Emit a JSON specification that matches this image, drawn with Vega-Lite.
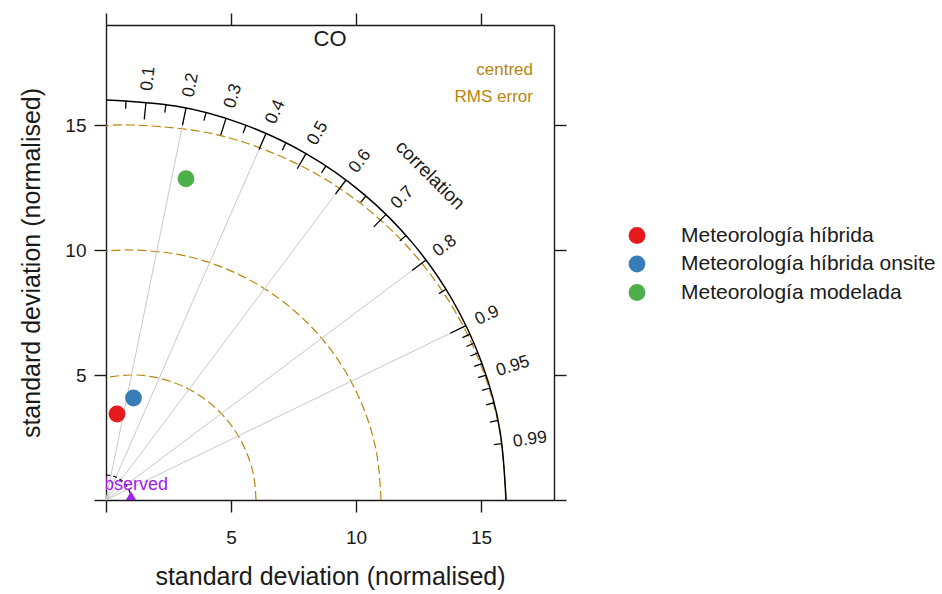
{
  "$schema": "https://vega.github.io/schema/vega-lite/v6.json",
  "width": 448,
  "height": 475,
  "autosize": {"type": "none"},
  "padding": {"left": 106, "top": 25, "right": 388, "bottom": 94},
  "background": "white",
  "config": {
    "view": {"stroke": null},
    "font": "Liberation Sans",
    "axis": {"grid": false, "domainColor": "#1a1a1a", "tickColor": "#1a1a1a", "domainWidth": 1.4, "tickWidth": 1.4, "labelColor": "#1a1a1a", "labelFont": "Liberation Sans", "titleFont": "Liberation Sans", "titleFontWeight": "normal", "titleColor": "#1a1a1a"}
  },
  "datasets": {
    "pts": [
      {"model": "Meteorología híbrida", "sdx": 0.44, "sdy": 3.44},
      {"model": "Meteorología híbrida onsite", "sdx": 1.1, "sdy": 4.08},
      {"model": "Meteorología modelada", "sdx": 3.2, "sdy": 12.85}
    ],
    "arcs": [
      {"arc": "r5", "i": 0, "x": 6, "y": 0}, {"arc": "r5", "i": 1, "x": 5.924, "y": 0.868}, {"arc": "r5", "i": 2, "x": 5.698, "y": 1.71}, {"arc": "r5", "i": 3, "x": 5.33, "y": 2.5}, {"arc": "r5", "i": 4, "x": 4.83, "y": 3.214}, {"arc": "r5", "i": 5, "x": 4.214, "y": 3.83}, {"arc": "r5", "i": 6, "x": 3.5, "y": 4.33}, {"arc": "r5", "i": 7, "x": 2.71, "y": 4.698}, {"arc": "r5", "i": 8, "x": 1.868, "y": 4.924}, {"arc": "r5", "i": 9, "x": 1, "y": 5}, {"arc": "r5", "i": 10, "x": 0.132, "y": 4.924}, {"arc": "r5", "i": 11, "x": 0, "y": 4.899},
      {"arc": "r10", "i": 0, "x": 11, "y": 0}, {"arc": "r10", "i": 1, "x": 10.848, "y": 1.736}, {"arc": "r10", "i": 2, "x": 10.397, "y": 3.42}, {"arc": "r10", "i": 3, "x": 9.66, "y": 5}, {"arc": "r10", "i": 4, "x": 8.66, "y": 6.428}, {"arc": "r10", "i": 5, "x": 7.428, "y": 7.66}, {"arc": "r10", "i": 6, "x": 6, "y": 8.66}, {"arc": "r10", "i": 7, "x": 4.42, "y": 9.397}, {"arc": "r10", "i": 8, "x": 2.736, "y": 9.848}, {"arc": "r10", "i": 9, "x": 1, "y": 10}, {"arc": "r10", "i": 10, "x": 0, "y": 9.95},
      {"arc": "r15", "i": 0, "x": 16, "y": 0}, {"arc": "r15", "i": 1, "x": 15.772, "y": 2.605}, {"arc": "r15", "i": 2, "x": 15.095, "y": 5.13}, {"arc": "r15", "i": 3, "x": 13.99, "y": 7.5}, {"arc": "r15", "i": 4, "x": 12.491, "y": 9.642}, {"arc": "r15", "i": 5, "x": 10.642, "y": 11.491}, {"arc": "r15", "i": 6, "x": 8.5, "y": 12.99}, {"arc": "r15", "i": 7, "x": 6.13, "y": 14.095}, {"arc": "r15", "i": 8, "x": 3.605, "y": 14.772}, {"arc": "r15", "i": 9, "x": 1, "y": 15}, {"arc": "r15", "i": 10, "x": 0, "y": 14.967},
      {"arc": "outer", "i": 0, "x": 16, "y": 0}, {"arc": "outer", "i": 1, "x": 15.757, "y": 2.778}, {"arc": "outer", "i": 2, "x": 15.035, "y": 5.472}, {"arc": "outer", "i": 3, "x": 13.856, "y": 8}, {"arc": "outer", "i": 4, "x": 12.257, "y": 10.285}, {"arc": "outer", "i": 5, "x": 10.285, "y": 12.257}, {"arc": "outer", "i": 6, "x": 8, "y": 13.856}, {"arc": "outer", "i": 7, "x": 5.472, "y": 15.035}, {"arc": "outer", "i": 8, "x": 2.778, "y": 15.757}, {"arc": "outer", "i": 9, "x": 0, "y": 16},
      {"arc": "ref", "i": 0, "x": 1, "y": 0}, {"arc": "ref", "i": 1, "x": 0.985, "y": 0.174}, {"arc": "ref", "i": 2, "x": 0.94, "y": 0.342}, {"arc": "ref", "i": 3, "x": 0.866, "y": 0.5}, {"arc": "ref", "i": 4, "x": 0.766, "y": 0.643}, {"arc": "ref", "i": 5, "x": 0.643, "y": 0.766}, {"arc": "ref", "i": 6, "x": 0.5, "y": 0.866}, {"arc": "ref", "i": 7, "x": 0.342, "y": 0.94}, {"arc": "ref", "i": 8, "x": 0.174, "y": 0.985}, {"arc": "ref", "i": 9, "x": 0, "y": 1}
    ],
    "corrlines": [
      {"c": 0.2, "x0": 0, "y0": 0, "x": 3.2, "y": 15.677},
      {"c": 0.4, "x0": 0, "y0": 0, "x": 6.4, "y": 14.664},
      {"c": 0.6, "x0": 0, "y0": 0, "x": 9.6, "y": 12.8},
      {"c": 0.8, "x0": 0, "y0": 0, "x": 12.8, "y": 9.6},
      {"c": 0.9, "x0": 0, "y0": 0, "x": 14.4, "y": 6.974}
    ],
    "ticks": [
      {"c": 0.1, "x": 1.6, "y": 15.92, "x2": 1.53, "y2": 15.223},
      {"c": 0.2, "x": 3.2, "y": 15.677, "x2": 3.06, "y2": 14.991},
      {"c": 0.3, "x": 4.8, "y": 15.263, "x2": 4.59, "y2": 14.595},
      {"c": 0.4, "x": 6.4, "y": 14.664, "x2": 6.12, "y2": 14.023},
      {"c": 0.5, "x": 8.0, "y": 13.856, "x2": 7.65, "y2": 13.25},
      {"c": 0.6, "x": 9.6, "y": 12.8, "x2": 9.18, "y2": 12.24},
      {"c": 0.7, "x": 11.2, "y": 11.426, "x2": 10.71, "y2": 10.926},
      {"c": 0.8, "x": 12.8, "y": 9.6, "x2": 12.24, "y2": 9.18},
      {"c": 0.9, "x": 14.4, "y": 6.974, "x2": 13.77, "y2": 6.669},
      {"c": 0.95, "x": 15.2, "y": 4.996, "x2": 14.886, "y2": 4.893},
      {"c": 0.99, "x": 15.84, "y": 2.257, "x2": 15.513, "y2": 2.211},
      {"c": 0.05, "x": 0.8, "y": 15.98, "x2": 0.784, "y2": 15.65},
      {"c": 0.15, "x": 2.4, "y": 15.819, "x2": 2.351, "y2": 15.493},
      {"c": 0.25, "x": 4.0, "y": 15.492, "x2": 3.918, "y2": 15.173},
      {"c": 0.35, "x": 5.6, "y": 14.988, "x2": 5.485, "y2": 14.679},
      {"c": 0.45, "x": 7.2, "y": 14.288, "x2": 7.052, "y2": 13.994},
      {"c": 0.55, "x": 8.8, "y": 13.363, "x2": 8.619, "y2": 13.087},
      {"c": 0.65, "x": 10.4, "y": 12.159, "x2": 10.186, "y2": 11.908},
      {"c": 0.75, "x": 12.0, "y": 10.583, "x2": 11.753, "y2": 10.365},
      {"c": 0.85, "x": 13.6, "y": 8.428, "x2": 13.32, "y2": 8.255},
      {"c": 0.91, "x": 14.56, "y": 6.634, "x2": 14.26, "y2": 6.497},
      {"c": 0.92, "x": 14.72, "y": 6.271, "x2": 14.416, "y2": 6.141},
      {"c": 0.93, "x": 14.88, "y": 5.881, "x2": 14.573, "y2": 5.76},
      {"c": 0.94, "x": 15.04, "y": 5.459, "x2": 14.73, "y2": 5.346},
      {"c": 0.96, "x": 15.36, "y": 4.48, "x2": 15.043, "y2": 4.388},
      {"c": 0.97, "x": 15.52, "y": 3.89, "x2": 15.2, "y2": 3.809},
      {"c": 0.98, "x": 15.68, "y": 3.184, "x2": 15.357, "y2": 3.118}
    ],
    "corrlabels": [
      {"lab": "0.1", "x": 1.645, "y": 16.368, "ang": -84.26},
      {"lab": "0.2", "x": 3.29, "y": 16.118, "ang": -78.46},
      {"lab": "0.3", "x": 4.935, "y": 15.692, "ang": -72.54},
      {"lab": "0.4", "x": 6.58, "y": 15.077, "ang": -66.42},
      {"lab": "0.5", "x": 8.225, "y": 14.246, "ang": -60},
      {"lab": "0.6", "x": 9.87, "y": 13.16, "ang": -53.13},
      {"lab": "0.7", "x": 11.515, "y": 11.748, "ang": -45.57},
      {"lab": "0.8", "x": 13.16, "y": 9.87, "ang": -36.87},
      {"lab": "0.9", "x": 14.805, "y": 7.17, "ang": -25.84},
      {"lab": "0.95", "x": 15.628, "y": 5.137, "ang": -18.19},
      {"lab": "0.99", "x": 16.286, "y": 2.321, "ang": -8.11}
    ],
    "notes": [
      {"txt": "centred", "x": 17.08, "y": 17.2},
      {"txt": "RMS error", "x": 17.08, "y": 16.13}
    ],
    "misc": [
      {"txt": "CO", "x": 8.96, "y": 18.46}
    ],
    "obs": [
      {"txt": "observed", "x": 1, "y": 0, "ty": 0.6}
    ],
    "corrtitle": [
      {"txt": "correlation", "x": 12.96, "y": 13.0}
    ]
  },
  "layer": [
    {
      "data": {"name": "arcs"},
      "transform": [{"filter": "datum.arc == 'r5' || datum.arc == 'r10' || datum.arc == 'r15'"}],
      "mark": {"type": "line", "color": "#B8860B", "strokeWidth": 1.2, "strokeDash": [9, 4], "interpolate": "natural"},
      "encoding": {
        "x": {"field": "x", "type": "quantitative", "scale": {"domain": [0, 17.92], "nice": false, "zero": false}, "axis": {"orient": "bottom", "values": [0, 5, 10, 15], "labelExpr": "datum.value == 0 ? '' : datum.label", "tickSize": 12, "labelFontSize": 19, "labelPadding": 16, "title": "standard deviation (normalised)", "titleFontSize": 25, "titlePadding": 17}},
        "y": {"field": "y", "type": "quantitative", "scale": {"domain": [0, 19], "nice": false, "zero": false}, "axis": {"orient": "left", "values": [0, 5, 10, 15], "labelExpr": "datum.value == 0 ? '' : datum.label", "tickSize": 12, "labelFontSize": 19, "labelPadding": 8, "title": "standard deviation (normalised)", "titleFontSize": 25, "titlePadding": 20}},
        "detail": {"field": "arc"},
        "order": {"field": "i", "type": "quantitative"}
      }
    },
    {
      "data": {"name": "corrlines"},
      "mark": {"type": "rule", "color": "#C8C8C8", "strokeWidth": 1},
      "encoding": {
        "x": {"field": "x0", "type": "quantitative", "axis": {"orient": "top", "values": [0, 5, 10, 15], "labels": false, "tickSize": 12, "title": null}},
        "y": {"field": "y0", "type": "quantitative", "axis": {"orient": "right", "values": [0, 5, 10, 15], "labels": false, "tickSize": 12, "title": null}},
        "x2": {"field": "x"},
        "y2": {"field": "y"}
      }
    },
    {
      "data": {"name": "arcs"},
      "transform": [{"filter": "datum.arc == 'outer'"}],
      "mark": {"type": "line", "color": "#000000", "strokeWidth": 1.5, "interpolate": "natural"},
      "encoding": {
        "x": {"field": "x", "type": "quantitative", "axis": null},
        "y": {"field": "y", "type": "quantitative", "axis": null},
        "order": {"field": "i", "type": "quantitative"}
      }
    },
    {
      "data": {"name": "arcs"},
      "transform": [{"filter": "datum.arc == 'ref'"}],
      "mark": {"type": "line", "color": "#000000", "strokeWidth": 1.2, "strokeDash": [4, 3], "interpolate": "natural"},
      "encoding": {
        "x": {"field": "x", "type": "quantitative", "axis": null},
        "y": {"field": "y", "type": "quantitative", "axis": null},
        "order": {"field": "i", "type": "quantitative"}
      }
    },
    {
      "data": {"name": "ticks"},
      "mark": {"type": "rule", "color": "#000000", "strokeWidth": 1.3},
      "encoding": {
        "x": {"field": "x", "type": "quantitative", "axis": null},
        "y": {"field": "y", "type": "quantitative", "axis": null},
        "x2": {"field": "x2"},
        "y2": {"field": "y2"}
      }
    },
    {
      "data": {"name": "corrlabels"},
      "mark": {"type": "text", "align": "left", "baseline": "middle", "fontSize": 17.5, "color": "#1a1a1a"},
      "encoding": {
        "x": {"field": "x", "type": "quantitative", "axis": null},
        "y": {"field": "y", "type": "quantitative", "axis": null},
        "angle": {"field": "ang", "type": "quantitative", "scale": null},
        "text": {"field": "lab"}
      }
    },
    {
      "data": {"name": "corrtitle"},
      "mark": {"type": "text", "align": "center", "baseline": "middle", "fontSize": 19, "angle": 45, "color": "#1a1a1a"},
      "encoding": {
        "x": {"field": "x", "type": "quantitative", "axis": null},
        "y": {"field": "y", "type": "quantitative", "axis": null},
        "text": {"field": "txt"}
      }
    },
    {
      "data": {"name": "notes"},
      "mark": {"type": "text", "align": "right", "baseline": "middle", "fontSize": 17, "color": "#B8860B"},
      "encoding": {
        "x": {"field": "x", "type": "quantitative", "axis": null},
        "y": {"field": "y", "type": "quantitative", "axis": null},
        "text": {"field": "txt"}
      }
    },
    {
      "data": {"name": "misc"},
      "mark": {"type": "text", "align": "center", "baseline": "middle", "fontSize": 22, "color": "#1a1a1a"},
      "encoding": {
        "x": {"field": "x", "type": "quantitative", "axis": null},
        "y": {"field": "y", "type": "quantitative", "axis": null},
        "text": {"field": "txt"}
      }
    },
    {
      "mark": {"type": "rule", "color": "#1a1a1a", "strokeWidth": 1.4},
      "encoding": {
        "y": {"datum": 17.92, "type": "quantitative", "axis": null}
      }
    },
    {
      "data": {"name": "obs"},
      "mark": {"type": "text", "align": "center", "baseline": "middle", "fontSize": 18, "color": "#A020F0", "clip": true},
      "encoding": {
        "x": {"field": "x", "type": "quantitative", "axis": null},
        "y": {"field": "ty", "type": "quantitative", "axis": null},
        "text": {"field": "txt"}
      }
    },
    {
      "data": {"name": "obs"},
      "mark": {"type": "point", "shape": "triangle-up", "filled": true, "size": 420, "color": "#A020F0", "opacity": 1, "clip": true},
      "encoding": {
        "x": {"field": "x", "type": "quantitative", "axis": null},
        "y": {"field": "y", "type": "quantitative", "axis": null}
      }
    },
    {
      "data": {"name": "pts"},
      "mark": {"type": "point", "shape": "circle", "filled": true, "size": 283, "opacity": 1},
      "encoding": {
        "x": {"field": "sdx", "type": "quantitative", "axis": null},
        "y": {"field": "sdy", "type": "quantitative", "axis": null},
        "color": {
          "field": "model", "type": "nominal",
          "scale": {"domain": ["Meteorología híbrida", "Meteorología híbrida onsite", "Meteorología modelada"], "range": ["#E41A1C", "#377EB8", "#4DAF4A"]},
          "legend": {"title": null, "orient": "none", "legendX": 520.5, "legendY": 200, "symbolType": "circle", "symbolSize": 283, "symbolStrokeWidth": 0, "labelFontSize": 21, "labelFont": "Liberation Sans", "labelColor": "#1a1a1a", "labelOffset": 33.5, "labelLimit": 0, "rowPadding": 6.5, "symbolOpacity": 1}
        }
      }
    }
  ]
}
